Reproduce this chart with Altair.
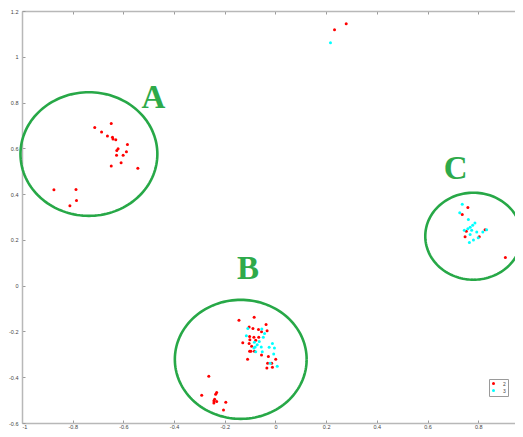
import altair as alt
import pandas as pd
import numpy as np

# ---- data ----
series_names = ["2", "3"]
series_colors = ["#ff0000", "#00ffff"]

red_x = [-0.713, -0.648, -0.686, -0.663, -0.643, -0.641, -0.630, -0.584, -0.621, -0.626,
         -0.588, -0.627, -0.601, -0.609, -0.648, -0.543, -0.874, -0.787, -0.785, -0.811,
         -0.144, -0.084, -0.037, -0.104, -0.089, -0.067, -0.055, -0.033, -0.102, -0.085,
         -0.066, -0.101, -0.078, -0.129, -0.104, -0.094, -0.097, -0.083, -0.102, -0.055,
         -0.028, -0.110, 0.001, -0.031, -0.015, -0.034, -0.012, -0.263, -0.232, -0.236,
         -0.291, -0.240, -0.243, -0.232, -0.243, -0.196, -0.205,
         0.759, 0.737, 0.753, 0.827, 0.748, 0.804, 0.907,
         0.279, 0.233]
red_y = [0.691, 0.708, 0.671, 0.654, 0.648, 0.641, 0.638, 0.617, 0.598, 0.590,
         0.585, 0.570, 0.570, 0.537, 0.523, 0.513, 0.419, 0.420, 0.372, 0.349,
         -0.151, -0.138, -0.170, -0.181, -0.187, -0.192, -0.201, -0.197, -0.222, -0.225,
         -0.225, -0.236, -0.239, -0.249, -0.253, -0.265, -0.286, -0.286, -0.286, -0.303,
         -0.309, -0.321, -0.322, -0.339, -0.339, -0.360, -0.356, -0.396, -0.467, -0.474,
         -0.479, -0.496, -0.503, -0.506, -0.513, -0.509, -0.543,
         0.341, 0.311, 0.238, 0.244, 0.214, 0.214, 0.123,
         1.144, 1.118]

cyan_x = [-0.109, -0.115, -0.054, -0.043, -0.048, -0.064, -0.072, -0.080, -0.056, -0.085,
          -0.052, -0.025, -0.012, -0.004, -0.007, -0.078, -0.021, 0.007, -0.083,
          0.737, 0.727, 0.761, 0.787, 0.778, 0.768, 0.759, 0.745, 0.774, 0.794,
          0.818, 0.833, 0.768, 0.800, 0.781, 0.765,
          0.217]
cyan_y = [-0.187, -0.219, -0.189, -0.209, -0.225, -0.244, -0.258, -0.268, -0.268, -0.272,
          -0.289, -0.269, -0.253, -0.272, -0.299, -0.289, -0.339, -0.352, -0.247,
          0.356, 0.319, 0.289, 0.274, 0.264, 0.255, 0.249, 0.242, 0.242, 0.234,
          0.234, 0.244, 0.224, 0.209, 0.200, 0.189,
          1.061]

circle_names = ["A", "B", "C"]
circle_cx = [-0.736, -0.137, 0.781]
circle_cy = [0.575, -0.322, 0.216]
circle_r = [0.27, 0.26, 0.19]
letter_x = [-0.482, -0.108, 0.711]
letter_y = [0.821, 0.073, 0.509]

x_ticks = [-1, -0.8, -0.6, -0.4, -0.2, 0, 0.2, 0.4, 0.6, 0.8]
y_ticks = [-0.6, -0.4, -0.2, 0, 0.2, 0.4, 0.6, 0.8, 1, 1.2]

# ---- tables ----
pts = pd.DataFrame({
    "x": red_x + cyan_x,
    "y": red_y + cyan_y,
    "series": [series_names[0]] * len(red_x) + [series_names[1]] * len(cyan_x),
})

rows = []
ang = np.linspace(0, 2 * np.pi, 145)
for n, cx, cy, r in zip(circle_names, circle_cx, circle_cy, circle_r):
    for i, a in enumerate(ang):
        rows.append({"name": n, "i": i, "x": cx + r * np.cos(a), "y": cy + r * np.sin(a)})
circ = pd.DataFrame(rows)

letters = pd.DataFrame({"name": circle_names, "x": letter_x, "y": letter_y})

W, H = 493, 412
xs = alt.Scale(domain=[-1, 0.945], nice=False, zero=False)
ys = alt.Scale(domain=[-0.6, 1.2], nice=False, zero=False)
lab = "replace(format(datum.value, '.1~f'), '\u2212', '-')"

points = alt.Chart(pts).mark_circle(size=9, opacity=1).encode(
    x=alt.X("x:Q", scale=xs, axis=alt.Axis(orient="bottom", values=x_ticks, ticks=False,
                                           labelExpr=lab, labelPadding=1, title=None)),
    y=alt.Y("y:Q", scale=ys, axis=alt.Axis(orient="left", values=y_ticks, ticks=False,
                                           labelExpr=lab, labelPadding=4, title=None)),
    color=alt.Color("series:N",
                    scale=alt.Scale(domain=series_names, range=series_colors),
                    legend=alt.Legend(orient="none", legendX=467, legendY=368, title=None,
                                      strokeColor="#9a9a9a", padding=2, symbolSize=9,
                                      symbolType="circle", labelFontSize=5, labelOffset=7,
                                      rowPadding=1, fillColor="white")),
)

circles = alt.Chart(circ).mark_line(color="#27a847", strokeWidth=2.6, clip=False).encode(
    x=alt.X("x:Q", scale=xs, axis=alt.Axis(orient="top", offset=-H, values=x_ticks, labels=False,
                                           domain=False, tickSize=3, title=None)),
    y=alt.Y("y:Q", scale=ys, axis=alt.Axis(orient="right", offset=-W, values=y_ticks, labels=False,
                                           domain=False, tickSize=3, title=None)),
    detail="name:N",
    order="i:Q",
)

text = alt.Chart(letters).mark_text(font="Liberation Serif", fontWeight="bold", fontSize=33,
                                    color="#2eaa4a", baseline="middle", align="center").encode(
    x=alt.X("x:Q", scale=xs, axis=alt.Axis(orient="bottom", offset=-H, values=x_ticks, labels=False,
                                           domain=True, tickSize=3, title=None)),
    y=alt.Y("y:Q", scale=ys, axis=None),
    text="name:N",
)

chart = alt.layer(circles, points, text).resolve_axis(x="independent", y="independent").properties(
    width=W, height=H,
    autosize=alt.AutoSizeParams(type="none"),
    padding={"left": 14, "top": 3, "right": 0, "bottom": 6},
).configure_axis(
    grid=False, labelFontSize=5.5, labelColor="#444", labelFont="Liberation Sans",
    domainColor="#b8b8b8", domainWidth=1.5, tickColor="#9a9a9a", tickWidth=1,
).configure_legend(labelFont="Liberation Sans", labelColor="#444").configure_view(stroke=None)

chart.save("out.html", embed_options={"renderer": "svg", "actions": False})
